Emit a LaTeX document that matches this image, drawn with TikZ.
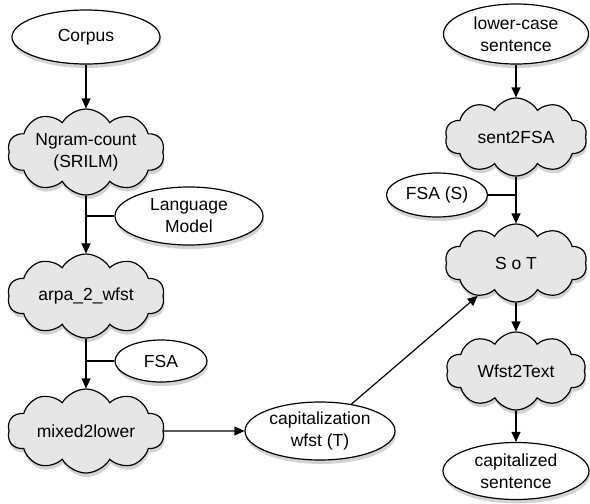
\documentclass[tikz,border=0pt]{standalone}
\usepackage{fontspec}
\setmainfont{Liberation Sans}
\usepackage{xcolor}
\usepackage{tikz}
\usetikzlibrary{arrows.meta,shapes.geometric,shapes.symbols,shadows}
\definecolor{cloudgray}{RGB}{230,230,230}

\begin{document}
\begin{tikzpicture}[x=1pt,y=-1pt,
  shade/.style={drop shadow={shadow xshift=1pt,shadow yshift=-4pt,opacity=0.35}},
  data/.style={ellipse,draw,fill=white,line width=1.2pt,inner sep=0pt,align=center,
               font=\fontsize{17.5}{22}\selectfont,shade},
  proc/.style={cloud,cloud puffs=10,cloud puff arc=120,cloud ignores aspect,draw,
               fill=cloudgray,line width=1.2pt,inner sep=0pt,align=center,
               font=\fontsize{17.5}{22}\selectfont,shade},
  >={Triangle[length=10pt,width=9pt]},line width=1.2pt]
\useasboundingbox (0,0) rectangle (590,504);

% left column
\node[data,minimum width=148pt,minimum height=54pt] (corpus) at (86,37) {Corpus};
\node[proc,minimum width=157pt,minimum height=86pt] (ngram) at (86,152) {Ngram-count\\(SRILM)};
\node[data,minimum width=148pt,minimum height=58pt] (lm) at (189,216) {Language\\Model};
\node[proc,minimum width=157pt,minimum height=84pt] (arpa) at (86,296) {arpa\_2\_wfst};
\node[data,minimum width=92pt,minimum height=42pt] (fsa) at (161,361) {FSA};
\node[proc,minimum width=157pt,minimum height=84pt] (mixed) at (86,431) {mixed2lower};

% middle
\node[data,minimum width=150pt,minimum height=58pt] (capwfst) at (320,431) {capitalization\\wfst (T)};

% right column
\node[data,minimum width=145pt,minimum height=60pt] (lcs) at (516,34) {lower-case\\sentence};
\node[proc,minimum width=142pt,minimum height=78pt] (sent) at (516,137) {sent2FSA};
\node[data,minimum width=101pt,minimum height=44pt] (fsas) at (437,195) {FSA (S)};
\node[proc,minimum width=142pt,minimum height=78pt] (sot) at (516,263) {S o T};
\node[proc,minimum width=140pt,minimum height=78pt] (w2t) at (516,371) {Wfst2Text};
\node[data,minimum width=146pt,minimum height=57pt] (capsent) at (516,471) {capitalized\\sentence};

\draw[->] (corpus) -- (ngram);
\draw[->] (ngram) -- (arpa);
\draw (lm.west) -- (lm.west -| ngram.south);
\draw[->] (arpa) -- (mixed);
\draw (fsa.west) -- (fsa.west -| arpa.south);
\draw[->] (mixed) -- (capwfst);
\draw[->] (capwfst) -- (sot);

\draw[->] (lcs) -- (sent);
\draw[->] (sent) -- (sot);
\draw (fsas.east) -- (fsas.east -| sent.south);
\draw[->] (sot) -- (w2t);
\draw[->] (w2t) -- (capsent);
\end{tikzpicture}
\end{document}
